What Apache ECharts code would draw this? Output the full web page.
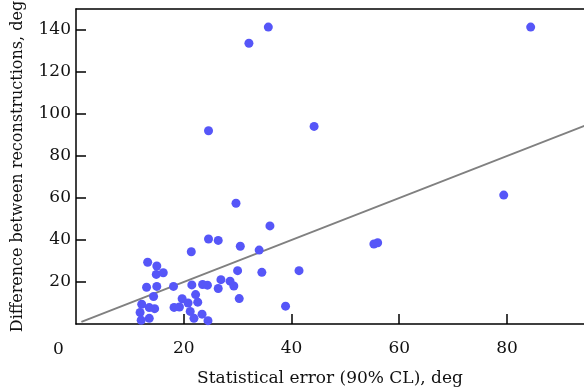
<!DOCTYPE html>
<html>
<head>
<meta charset="utf-8">
<script src="https://cdn.jsdelivr.net/npm/echarts@6/dist/echarts.min.js"></script>
<style>
  html, body { margin: 0; padding: 0; background: #fff; }
  #chart { width: 584px; height: 390px; }
</style>
</head>
<body>
<div id="chart"></div>
<script>
// statistical error vs difference between reconstructions
const errX = [84.4, 35.7, 32.1, 24.6, 44.2, 79.4, 55.3, 56.0, 41.4, 38.9,
  29.7, 36.0, 24.6, 26.4, 30.5, 34.0, 21.4, 34.5, 13.3, 15.0,
  14.9, 16.2, 30.0, 26.9, 28.6, 29.3, 26.4, 23.5, 24.4, 21.5,
  18.1, 15.0, 13.1, 14.4, 30.3, 19.7, 22.2, 20.8, 22.6, 18.2,
  19.2, 12.2, 13.6, 14.6, 11.9, 13.6, 12.1, 21.2, 21.9, 23.4, 24.5];
const diffY = [141.4, 141.4, 133.7, 92.0, 94.1, 61.4, 38.1, 38.7, 25.4, 8.5,
  57.5, 46.7, 40.5, 39.8, 37.0, 35.2, 34.4, 24.6, 29.4, 27.6,
  23.6, 24.4, 25.4, 21.1, 20.4, 18.1, 16.9, 18.8, 18.5, 18.6,
  17.9, 17.9, 17.5, 13.1, 12.1, 12.0, 14.0, 10.0, 10.4, 7.9,
  8.1, 9.4, 7.8, 7.3, 5.5, 2.7, 1.8, 6.0, 2.7, 4.7, 1.6];
// y = x reference line
const lineX = [1, 100];
const lineY = [1, 100];

const points = errX.map((x, i) => [x, diffY[i]]);
const refLine = lineX.map((x, i) => [x, lineY[i]]);

const font = 'DejaVu Serif';
const fontSize = 17;
const chart = echarts.init(document.getElementById('chart'), null, { renderer: 'canvas' });

chart.setOption({
  animation: false,
  grid: { left: 76, right: 0, top: 9, bottom: 66, outerBoundsMode: 'none' },
  xAxis: [{
    type: 'value',
    min: 0,
    max: 94.3,
    interval: 20,
    name: 'Statistical error (90% CL), deg',
    nameLocation: 'middle',
    nameGap: 46,
    nameTextStyle: { fontFamily: font, fontSize: fontSize, color: '#111' },
    axisLine: { lineStyle: { color: '#000', width: 1.5 } },
    axisTick: { inside: true, length: 10, lineStyle: { color: '#000', width: 1.5 } },
    axisLabel: { showMinLabel: false, showMaxLabel: false, margin: 16, fontFamily: font, fontSize: fontSize, color: '#111' },
    splitLine: { show: false }
  }, {
    type: 'value',
    position: 'top',
    min: 0,
    max: 94.3,
    axisLine: { show: true, lineStyle: { color: '#000', width: 1.5 } },
    axisTick: { show: false },
    axisLabel: { show: false },
    splitLine: { show: false }
  }],
  yAxis: {
    type: 'value',
    min: 0,
    max: 150,
    interval: 20,
    name: 'Difference between reconstructions, deg',
    nameLocation: 'middle',
    nameGap: 50,
    nameTextStyle: { fontFamily: font, fontSize: 16, color: '#111' },
    axisLine: { show: true, lineStyle: { color: '#000', width: 1.5 } },
    axisTick: { inside: true, length: 10, lineStyle: { color: '#000', width: 1.5 } },
    axisLabel: { showMinLabel: false, showMaxLabel: false, margin: 5, fontFamily: font, fontSize: fontSize, color: '#111' },
    splitLine: { show: false }
  },
  graphic: [{
    type: 'text',
    left: 53,
    top: 341,
    style: { text: '0', font: fontSize + 'px "DejaVu Serif"', fill: '#111' }
  }],
  series: [{
    type: 'line',
    data: refLine,
    symbol: 'none',
    clip: true,
    lineStyle: { color: '#808080', width: 2 },
    z: 1
  }, {
    type: 'scatter',
    data: points,
    symbolSize: 9,
    itemStyle: { color: '#5656f8', opacity: 1 },
    z: 2
  }]
});
</script>
</body>
</html>
